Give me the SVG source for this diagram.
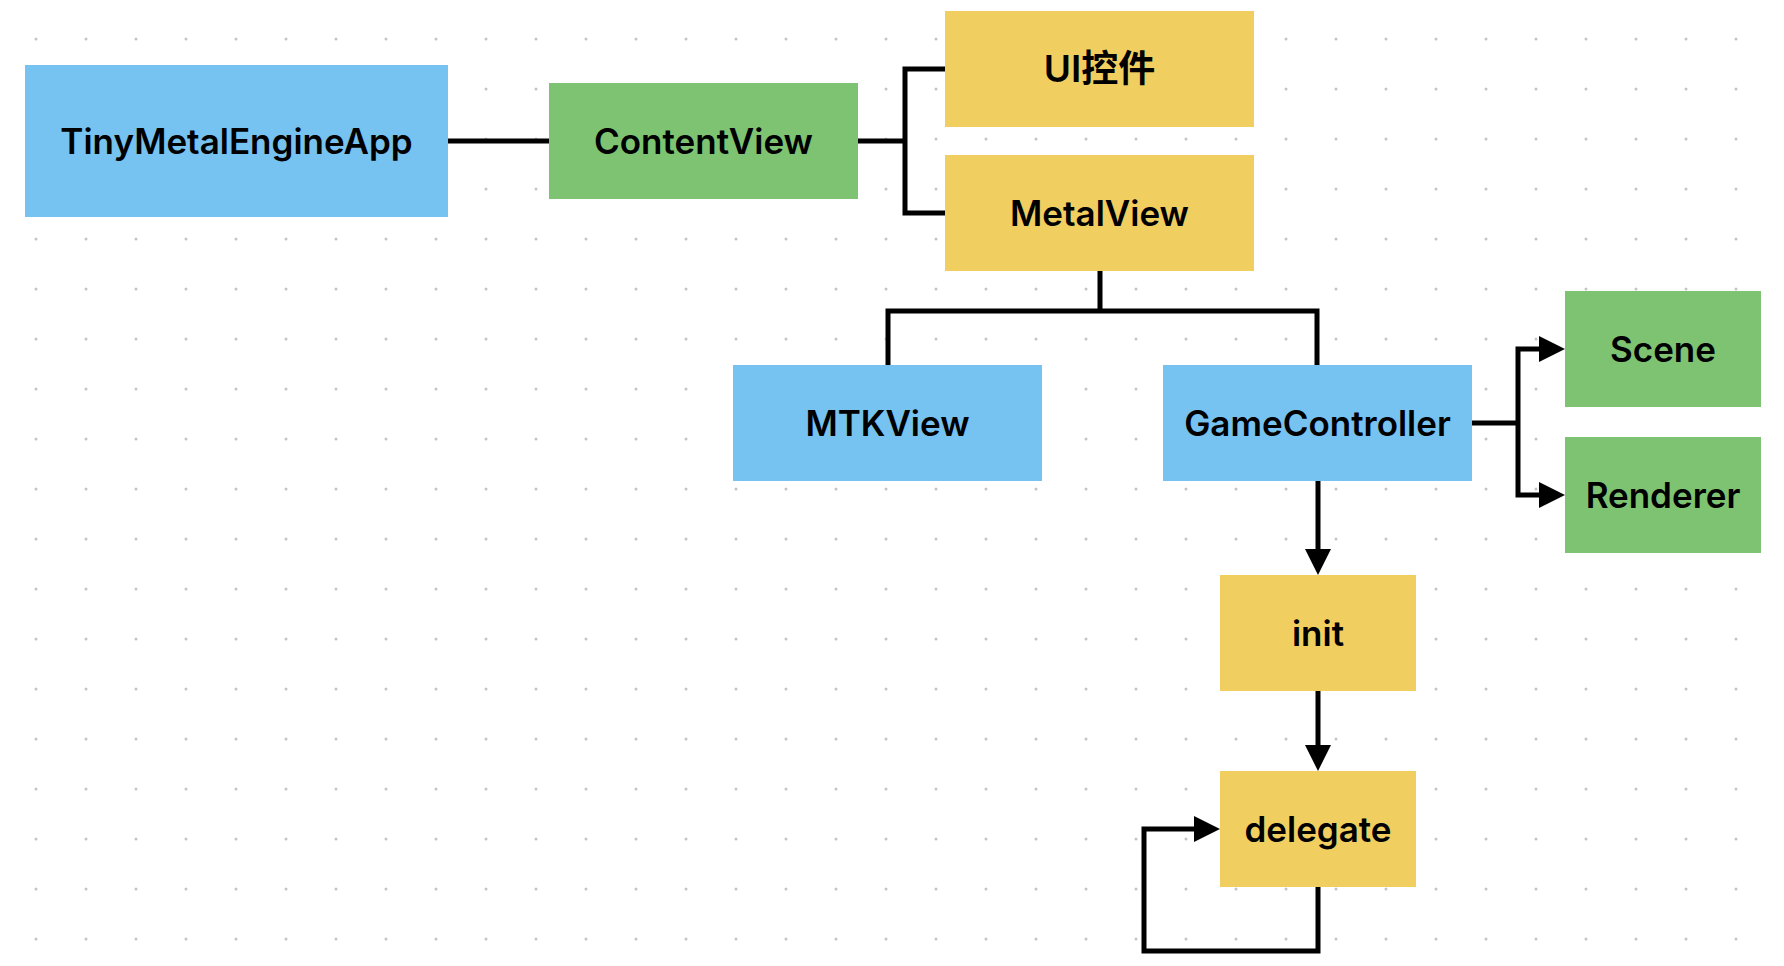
<svg xmlns="http://www.w3.org/2000/svg" width="1784" height="966" viewBox="0 0 1784 966">
<style>
.blue{fill:#76C2F0}
.green{fill:#7DC371}
.yellow{fill:#F0CE60}
.lbl{font-family:Inter,"Noto Sans CJK SC",sans-serif;font-weight:600;font-size:35px;fill:#000;text-anchor:middle}
.cjk{font-size:37px}
.con{fill:none;stroke:#000;stroke-width:5;stroke-linejoin:miter;stroke-linecap:butt}
</style>
<defs>
<pattern id="dots" patternUnits="userSpaceOnUse" x="11" y="14" width="50" height="50">
<circle cx="25" cy="25" r="1.5" fill="#C4C4C4"/>
</pattern>
<marker id="arr" markerUnits="userSpaceOnUse" markerWidth="26" markerHeight="26" refX="0" refY="13" orient="auto" viewBox="0 0 26 26">
<path d="M0,0 L26,13 L0,26 z" fill="#000"/>
</marker>
</defs>
<rect width="1784" height="966" fill="#fff"/>
<rect width="1784" height="966" fill="url(#dots)"/>
<g id="connectors">
<path class="con" d="M448 141 H549"/>
<path class="con" d="M858 141 H905 M945 69 H905 V213 H945"/>
<path class="con" d="M1100 271 V311 M888 365 V311 H1317 V365"/>
<path class="con" d="M1472 423 H1518"/>
<path class="con" d="M1518 423 V349 H1539" marker-end="url(#arr)"/>
<path class="con" d="M1518 423 V495 H1539" marker-end="url(#arr)"/>
<path class="con" d="M1318 481 V549" marker-end="url(#arr)"/>
<path class="con" d="M1318 691 V745" marker-end="url(#arr)"/>
<path class="con" d="M1318 887 V951 H1144 V829 H1194" marker-end="url(#arr)"/>
</g>
<g id="TinyMetalEngineApp"><rect class="blue" x="25" y="65" width="423" height="152"/><text class="lbl" x="236.5" y="154">TinyMetalEngineApp</text></g>
<g id="ContentView"><rect class="green" x="549" y="83" width="309" height="116"/><text class="lbl" x="703.5" y="154">ContentView</text></g>
<g id="UIControls"><rect class="yellow" x="945" y="11" width="309" height="116"/><text class="lbl cjk" x="1099.5" y="82">UI控件</text></g>
<g id="MetalView"><rect class="yellow" x="945" y="155" width="309" height="116"/><text class="lbl" x="1099.5" y="226">MetalView</text></g>
<g id="MTKView"><rect class="blue" x="733" y="365" width="309" height="116"/><text class="lbl" x="887.5" y="436">MTKView</text></g>
<g id="GameController"><rect class="blue" x="1163" y="365" width="309" height="116"/><text class="lbl" x="1317.5" y="436">GameController</text></g>
<g id="Scene"><rect class="green" x="1565" y="291" width="196" height="116"/><text class="lbl" x="1663" y="362">Scene</text></g>
<g id="Renderer"><rect class="green" x="1565" y="437" width="196" height="116"/><text class="lbl" x="1663" y="508">Renderer</text></g>
<g id="init"><rect class="yellow" x="1220" y="575" width="196" height="116"/><text class="lbl" x="1318" y="646">init</text></g>
<g id="delegate"><rect class="yellow" x="1220" y="771" width="196" height="116"/><text class="lbl" x="1318" y="842">delegate</text></g>
</svg>
